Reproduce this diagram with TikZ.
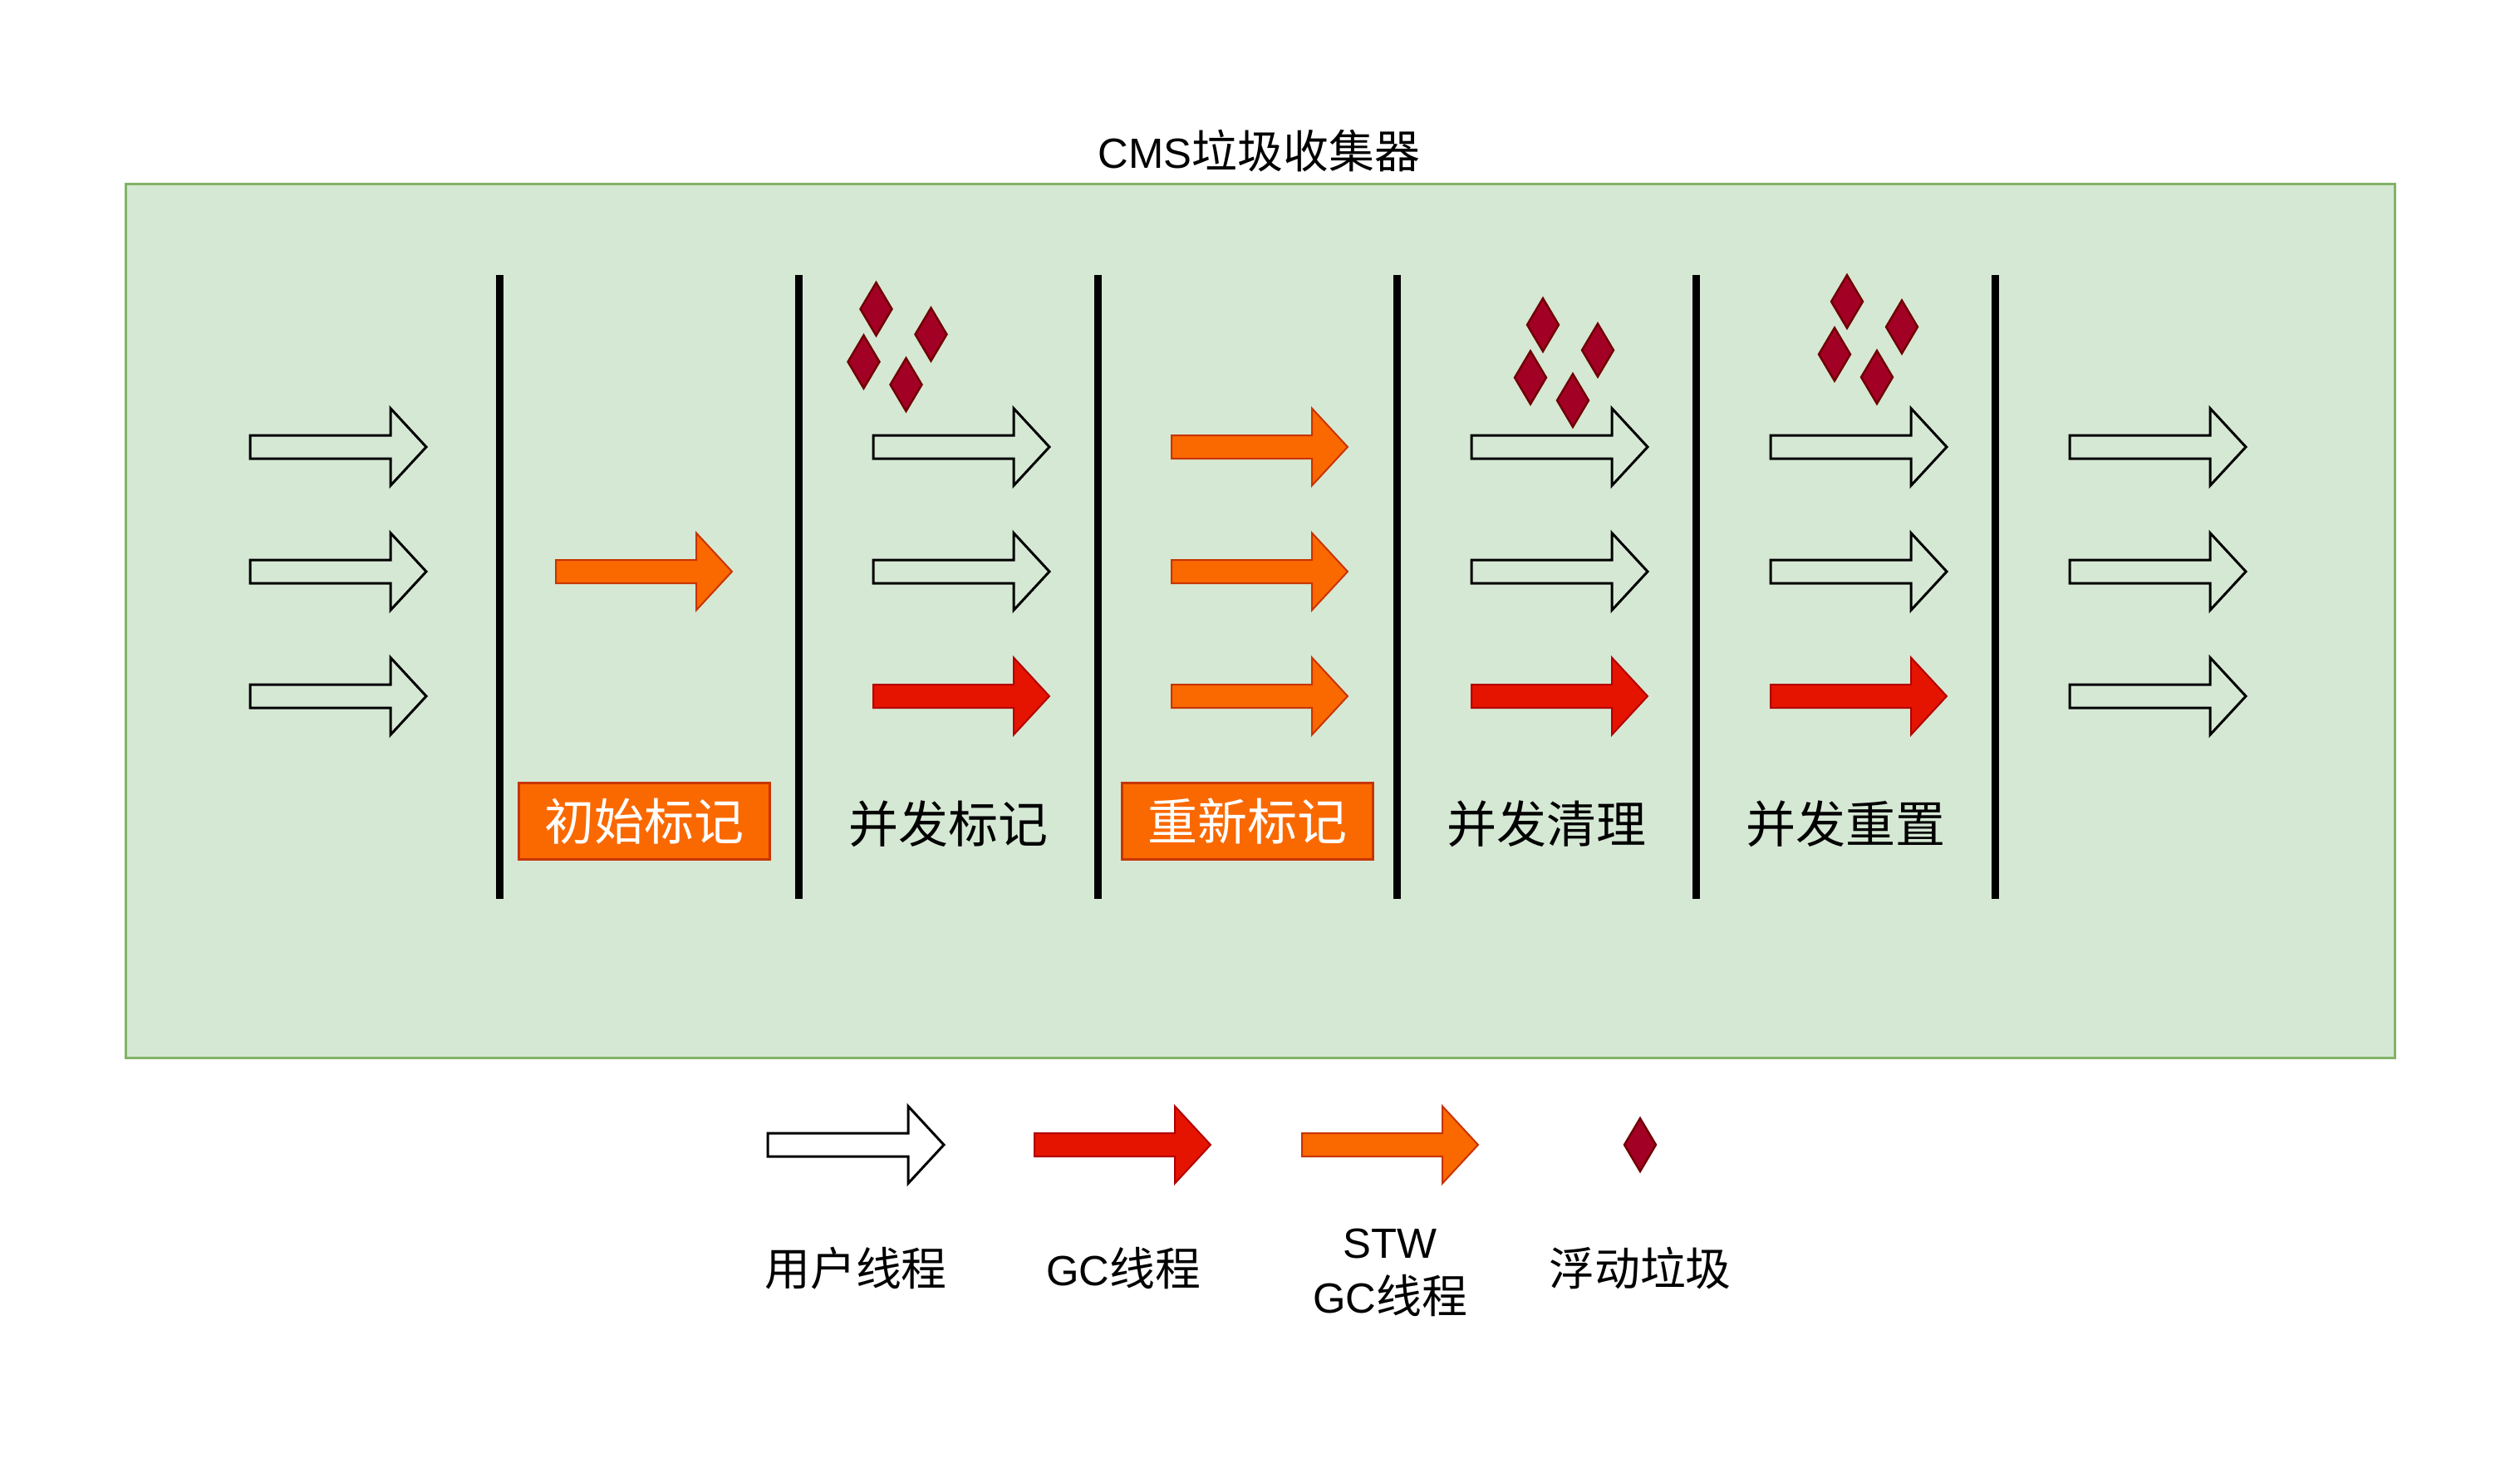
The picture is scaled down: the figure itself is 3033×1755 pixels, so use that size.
\documentclass[tikz,border=0pt]{standalone}
\usepackage{fontspec}
\setmainfont{Liberation Sans}
\newfontfamily\cjk{Noto Sans CJK SC}[Scale=1.08]
\definecolor{bggreen}{HTML}{D5E8D4}
\definecolor{bgstroke}{HTML}{82B366}
\definecolor{orfill}{HTML}{FA6800}
\definecolor{orline}{HTML}{C73500}
\definecolor{rdfill}{HTML}{E51400}
\definecolor{rdline}{HTML}{B20000}
\definecolor{jkfill}{HTML}{A20025}
\definecolor{jkline}{HTML}{6F0000}
\tikzset{
  thread/.pic={\path[pic actions] (0,-14) -- (169,-14) -- (169,-46.5) -- (212,0) -- (169,46.5) -- (169,14) -- (0,14) -- cycle;},
  junk/.pic={\path[pic actions] (0,-32) -- (19,0) -- (0,32) -- (-19,0) -- cycle;},
  userthr/.style={draw=black, line width=0.75pt, fill=none, line join=miter},
  gcthr/.style={draw=rdline, line width=0.5pt, fill=rdfill, line join=miter},
  stwthr/.style={draw=orline, line width=0.5pt, fill=orfill, line join=miter},
  junkst/.style={draw=jkline, line width=0.6pt, fill=jkfill, line join=miter},
  sepline/.style={line width=2.25pt, draw=black},
  stage/.style={font=\fontsize{13.9pt}{16pt}\selectfont, text=black, inner sep=0pt},
  stwbox/.style={draw=orline, line width=0.75pt, fill=orfill, text=white,
     font=\fontsize{13.9pt}{16pt}\selectfont, minimum width=75.5pt, minimum height=22.9pt, inner sep=0pt},
  legtext/.style={font=\fontsize{12.7pt}{16.6pt}\selectfont, text=black, inner sep=0pt, align=center},
}
\newcommand{\junkgroup}[3]{%
  \pic[junkst] (#3a) at (#1,#2) {junk};
  \pic[junkst] (#3b) at ({#1+66},{#2+30.5}) {junk};
  \pic[junkst] (#3c) at ({#1-15},{#2+63.5}) {junk};
  \pic[junkst] (#3d) at ({#1+36},{#2+91}) {junk};
}
\begin{document}
\begin{tikzpicture}[x=0.25pt, y=-0.25pt]
  \fill[white] (0,0) rectangle (3033,1755);
  \useasboundingbox (0,0) rectangle (3033,1755);

  % title
  \node[legtext] (title) at (1515.5,182) {CMS{\cjk 垃圾收集器}};

  % frame
  \node[draw=bgstroke, fill=bggreen, line width=0.75pt, minimum width=682.75pt,
        minimum height=262.75pt, inner sep=0pt] (frame) at (1516.5,747.5) {};

  % separators
  \foreach \i/\x in {1/601.5,2/961.5,3/1321.5,4/1681.5,5/2041.5,6/2401.5}{
    \coordinate (st\i) at (\x,331);
    \coordinate (sb\i) at (\x,1082);
    \draw[sepline] (st\i) -- (sb\i);
  }

  % column 1
  \pic[userthr] (c1a) at (301,538) {thread};
  \pic[userthr] (c1b) at (301,688) {thread};
  \pic[userthr] (c1c) at (301,838) {thread};
  % column 2
  \pic[stwthr] (c2b) at (669,688) {thread};
  \node[stwbox] (lab2) at (775.5,988.5) {\raisebox{-1pt}{\cjk 初始标记}};
  % column 3
  \junkgroup{1054.5}{372}{j3}
  \pic[userthr] (c3a) at (1051,538) {thread};
  \pic[userthr] (c3b) at (1051,688) {thread};
  \pic[gcthr] (c3c) at (1051,838) {thread};
  \node[stage] (lab3) at (1141.5,992) {\cjk 并发标记};
  % column 4
  \pic[stwthr] (c4a) at (1410,538) {thread};
  \pic[stwthr] (c4b) at (1410,688) {thread};
  \pic[stwthr] (c4c) at (1410,838) {thread};
  \node[stwbox] (lab4) at (1501.5,988.5) {\raisebox{-1pt}{\cjk 重新标记}};
  % column 5
  \junkgroup{1857}{391}{j5}
  \pic[userthr] (c5a) at (1771,538) {thread};
  \pic[userthr] (c5b) at (1771,688) {thread};
  \pic[gcthr] (c5c) at (1771,838) {thread};
  \node[stage] (lab5) at (1861.5,992) {\cjk 并发清理};
  % column 6
  \junkgroup{2223}{363}{j6}
  \pic[userthr] (c6a) at (2131,538) {thread};
  \pic[userthr] (c6b) at (2131,688) {thread};
  \pic[gcthr] (c6c) at (2131,838) {thread};
  \node[stage] (lab6) at (2221.5,992) {\cjk 并发重置};
  % column 7
  \pic[userthr] (c7a) at (2491,538) {thread};
  \pic[userthr] (c7b) at (2491,688) {thread};
  \pic[userthr] (c7c) at (2491,838) {thread};

  % legend
  \pic[userthr] (lg1) at (924,1378) {thread};
  \pic[gcthr] (lg2) at (1245,1378) {thread};
  \pic[stwthr] (lg3) at (1567,1378) {thread};
  \pic[junkst] (lg4) at (1974,1378) {junk};
  \node[legtext] (lt1) at (1030,1527) {\cjk 用户线程};
  \node[legtext] (lt2) at (1352,1527) {GC{\cjk 线程}};
  \node[legtext] (lt3) at (1673,1532) {STW\\GC{\cjk 线程}};
  \node[legtext] (lt4) at (1974,1527) {\cjk 浮动垃圾};
\end{tikzpicture}
\end{document}
